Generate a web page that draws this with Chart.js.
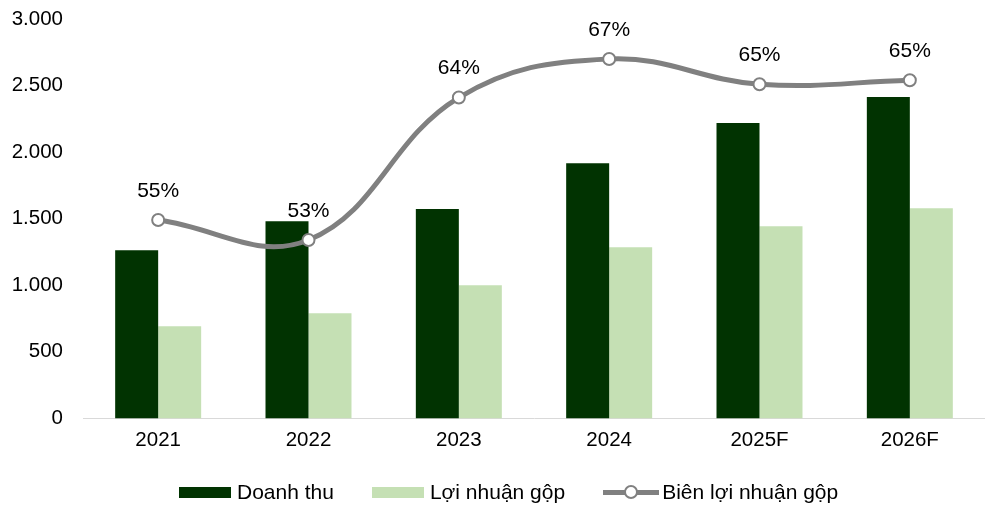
<!DOCTYPE html>
<html>
<head>
<meta charset="utf-8">
<script src="https://cdn.jsdelivr.net/npm/chart.js@4.4.1/dist/chart.umd.min.js"></script>
<style>
    html, body { margin: 0; padding: 0; background: #fff; }
    #wrap { position: relative; width: 985px; height: 505px; }
    #legend {
        position: absolute; left: 179px; top: 479px; height: 26px;
        display: flex; align-items: center;
        font: 21px "Liberation Sans", Arial, sans-serif; color: #000;
    }
    .item { display: flex; align-items: center; margin-right: 38px; }
    .item:last-child { margin-right: 0; }
    .box { width: 52px; height: 11px; margin-right: 6px; }
    .lineKey { position: relative; width: 56px; height: 14px; margin-right: 3px; }
    .lineKey .bar { position: absolute; left: 0; top: 5px; width: 56px; height: 5px; background: #808080; }
    .lineKey .dot { position: absolute; left: 21px; top: 0px; width: 10px; height: 10px; border: 2px solid #808080; border-radius: 50%; background: #fff; }
</style>
</head>
<body>
<div id="wrap">
    <canvas id="chart1" width="985" height="505"></canvas>
    <div id="legend"></div>
</div>
<script>
var years = ['2021', '2022', '2023', '2024', '2025F', '2026F'];
var doanhThu = [1263, 1481, 1572, 1917, 2218, 2414];
var loiNhuanGop = [692, 790, 1000, 1286, 1444, 1579];
var bienLoiNhuan = [0.549, 0.534, 0.641, 0.670, 0.651, 0.654];
var yTicks = [0, 500, 1000, 1500, 2000, 2500, 3000];

var seriesNames = ['Doanh thu', 'Lợi nhuận gộp', 'Biên lợi nhuận gộp'];
var darkGreen = '#013301';
var lightGreen = '#c5e0b4';
var lineGray = '#808080';
var fontFamily = '"Liberation Sans", Arial, sans-serif';

function formatThousands(v) {
    return String(v).replace(/\B(?=(\d{3})+(?!\d))/g, '.');
}

// labels above the margin points
var pointLabels = {
    id: 'pointLabels',
    afterDatasetsDraw: function (chart) {
        var meta = chart.getDatasetMeta(2);
        var ctx = chart.ctx;
        ctx.save();
        ctx.font = '21px ' + fontFamily;
        ctx.fillStyle = '#000';
        ctx.textAlign = 'center';
        ctx.textBaseline = 'middle';
        meta.data.forEach(function (pt, i) {
            ctx.fillText(Math.round(bienLoiNhuan[i] * 100) + '%', pt.x, pt.y - 29);
        });
        ctx.restore();
    }
};

var ctxChart1 = document.getElementById('chart1').getContext('2d');
var chart1 = new Chart(ctxChart1, {
    type: 'bar',
    plugins: [pointLabels],
    data: {
        labels: years,
        datasets: [{
            label: seriesNames[0],
            data: doanhThu,
            backgroundColor: darkGreen,
            barPercentage: 1,
            categoryPercentage: 0.572,
            order: 1
        }, {
            label: seriesNames[1],
            data: loiNhuanGop,
            backgroundColor: lightGreen,
            barPercentage: 1,
            categoryPercentage: 0.572,
            order: 1
        }, {
            type: 'line',
            label: seriesNames[2],
            data: bienLoiNhuan,
            yAxisID: 'y1',
            borderColor: lineGray,
            borderWidth: 5,
            tension: 0.4,
            pointRadius: 6,
            pointBorderWidth: 2,
            pointBackgroundColor: '#fff',
            pointBorderColor: lineGray,
            order: 0
        }]
    },
    options: {
        responsive: false,
        animation: false,
        layout: {
            autoPadding: false,
            padding: { top: 19, right: 0, bottom: 42, left: 0 }
        },
        plugins: {
            legend: { display: false },
            tooltip: { enabled: false }
        },
        scales: {
            x: {
                afterFit: function (s) { s.paddingLeft = 0; s.paddingRight = 0; },
                grid: { display: false, drawTicks: false },
                border: { color: '#d9d9d9', width: 1 },
                ticks: { color: '#000', padding: 10, font: { size: 20.5, family: fontFamily } }
            },
            y: {
                min: 0,
                max: 3000,
                afterFit: function (s) { s.width = 83; s.paddingTop = 0; s.paddingBottom = 0; },
                afterBuildTicks: function (s) {
                    s.ticks = yTicks.map(function (v) { return { value: v }; });
                },
                grid: { display: false, drawTicks: false },
                border: { display: false },
                ticks: {
                    color: '#000',
                    padding: 20,
                    font: { size: 20.5, family: fontFamily },
                    callback: function (v) { return formatThousands(v); }
                }
            },
            y1: {
                display: false,
                min: 0.40,
                max: 0.70
            }
        }
    }
});

// legend as html below the plot
var legendHtml = '';
legendHtml += '<div class="item"><span class="box" style="background:' + darkGreen + '"></span>' + seriesNames[0] + '</div>';
legendHtml += '<div class="item"><span class="box" style="background:' + lightGreen + '"></span>' + seriesNames[1] + '</div>';
legendHtml += '<div class="item"><span class="lineKey"><span class="bar"></span><span class="dot"></span></span>' + seriesNames[2] + '</div>';
document.getElementById('legend').innerHTML = legendHtml;
</script>
</body>
</html>
